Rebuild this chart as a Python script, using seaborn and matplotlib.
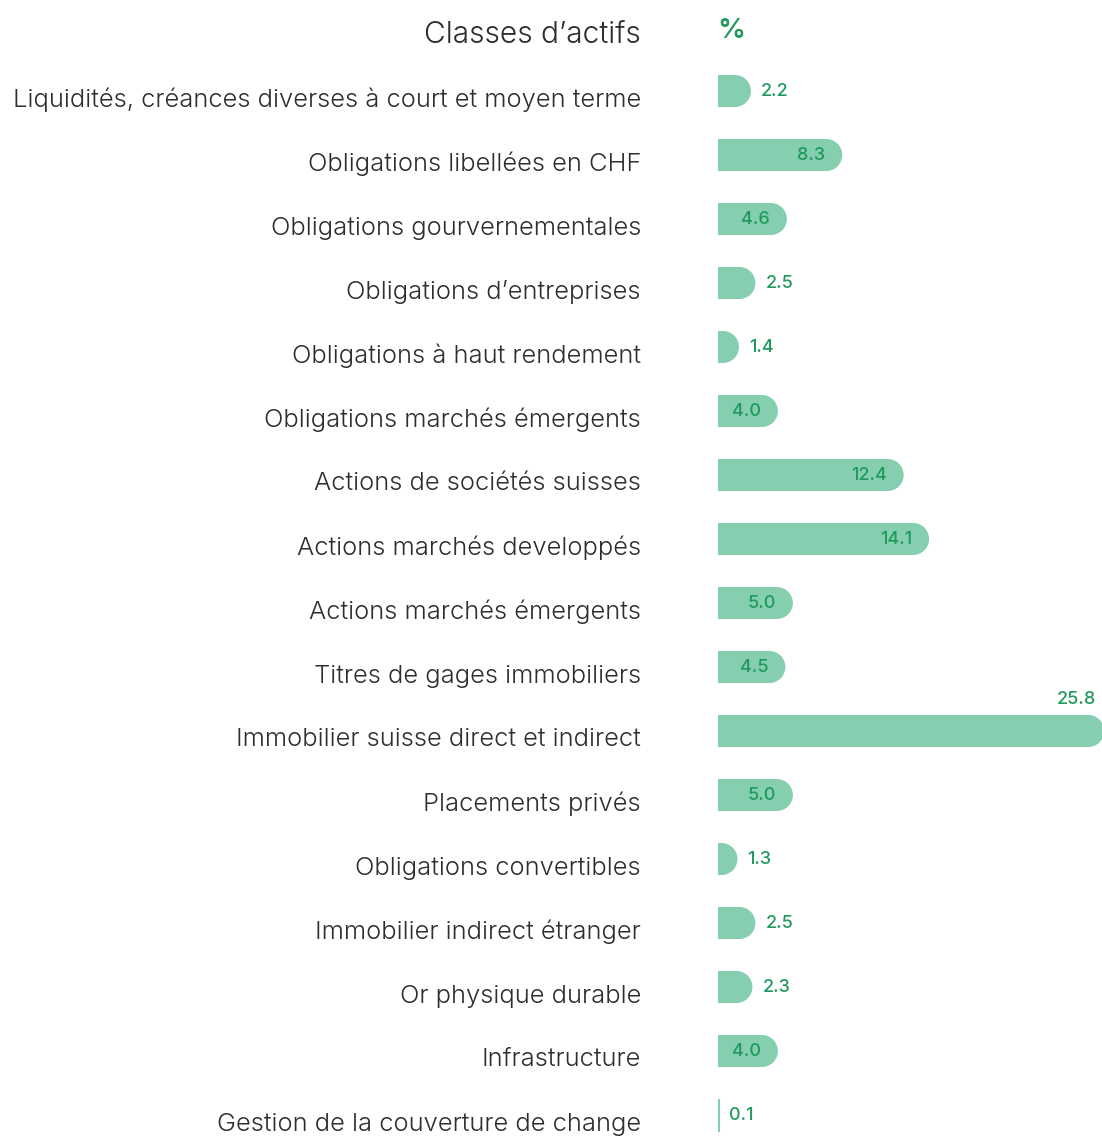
import matplotlib
matplotlib.use("Agg")
import matplotlib.pyplot as plt
from matplotlib.patches import Ellipse
import seaborn as sns
import pandas as pd

categories = [
    "Liquidités, créances diverses à court et moyen terme",
    "Obligations libellées en CHF",
    "Obligations gourvernementales",
    "Obligations d’entreprises",
    "Obligations à haut rendement",
    "Obligations marchés émergents",
    "Actions de sociétés suisses",
    "Actions marchés developpés",
    "Actions marchés émergents",
    "Titres de gages immobiliers",
    "Immobilier suisse direct et indirect",
    "Placements privés",
    "Obligations convertibles",
    "Immobilier indirect étranger",
    "Or physique durable",
    "Infrastructure",
    "Gestion de la couverture de change",
]
values = [2.2, 8.3, 4.6, 2.5, 1.4, 4.0, 12.4, 14.1, 5.0, 4.5, 25.8, 5.0, 1.3, 2.5, 2.3, 4.0, 0.1]
header_left = "Classes d’actifs"
header_right = "%"

BAR = "#85CEAF"
GREEN = "#1F9A5C"
GREY = "#2E2E2E"

sns.set_theme(style="white")
plt.rcParams['font.family'] = ['Inter', 'DejaVu Sans']

W, H, DPI = 1102, 1137, 100
fig = plt.figure(figsize=(W / DPI, H / DPI), dpi=DPI)
ax_left_px, ax_right_px = 718, 1102
ax = fig.add_axes([ax_left_px / W, 0, (ax_right_px - ax_left_px) / W, 1])

df = pd.DataFrame({"cat": categories, "val": values})
sns.barplot(data=df, x="val", y="cat", orient="h", color=BAR, width=0.5,
            saturation=1, ax=ax, order=categories)

xmax = 25.65
ax.set_xlim(0, xmax)
row_px = 64
top_center = 91
n = len(categories)
ax.set_ylim(n - 1 + (H - (top_center + row_px * (n - 1))) / row_px,
            -top_center / row_px)
px_per_x = (ax_right_px - ax_left_px) / xmax

r_px = 16
r_data = r_px / px_per_x
for p in list(ax.patches):
    x0, y0 = p.get_x(), p.get_y()
    w, h = p.get_width(), p.get_height()
    p.set_edgecolor("none")
    p.set_linewidth(0)
    if w > r_data:
        p.set_width(w - r_data)
        e = Ellipse((w - r_data, y0 + h / 2), 2 * r_data, h, facecolor=BAR,
                    edgecolor="none", linewidth=0)
        ax.add_patch(e)
    else:
        p.set_edgecolor(BAR)
        p.set_linewidth(0.8)

pt = 72 / DPI
ax.set_yticks(range(n))
ax.set_yticklabels([])
ax.tick_params(axis="y", length=0)
ax.set_xticks([])
ax.set_xlabel("")
ax.set_ylabel("")
for s in ax.spines.values():
    s.set_visible(False)

for i, c in enumerate(categories):
    ax.annotate(c, (0, i), xytext=(-(ax_left_px - 641) * pt, -9 * pt),
                textcoords="offset points", ha="right", va="center",
                fontsize=18.4, color=GREY, fontweight=300, annotation_clip=False)

for i, v in enumerate(values):
    kw = dict(textcoords="offset points", va="center", fontsize=13, color=GREEN,
              fontweight=500, annotation_clip=False)
    if v >= 25:
        ax.annotate(f"{v:.1f}", (v, i), xytext=(-8 * pt, 32 * pt), ha="right", **kw)
    elif v >= 3:
        ax.annotate(f"{v:.1f}", (v, i), xytext=(-17 * pt, 0), ha="right", **kw)
    else:
        ax.annotate(f"{v:.1f}", (v, i), xytext=(10 * pt, 0), ha="left", **kw)

fig.text(641 / W, 1 - 35 / H, header_left, ha="right", va="center", fontsize=21.6,
         color=GREY, fontweight=300)
fig.text(717 / W, 1 - 31 / H, header_right, ha="left", va="center", fontsize=20,
         color=GREEN, fontweight=600)

fig.savefig("out.png", dpi=DPI)
